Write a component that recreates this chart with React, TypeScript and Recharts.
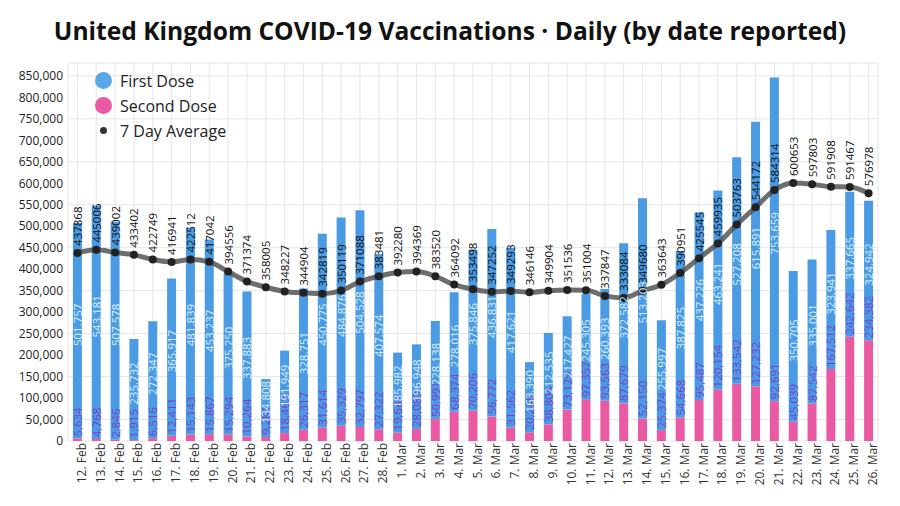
import React from "react";
import {
  ComposedChart,
  Bar,
  Line,
  XAxis,
  YAxis,
  CartesianGrid,
  LabelList,
} from "recharts";

const dates = [
  "12. Feb", "13. Feb", "14. Feb", "15. Feb", "16. Feb", "17. Feb", "18. Feb",
  "19. Feb", "20. Feb", "21. Feb", "22. Feb", "23. Feb", "24. Feb", "25. Feb",
  "26. Feb", "27. Feb", "28. Feb", "1. Mar", "2. Mar", "3. Mar", "4. Mar",
  "5. Mar", "6. Mar", "7. Mar", "8. Mar", "9. Mar", "10. Mar", "11. Mar",
  "12. Mar", "13. Mar", "14. Mar", "15. Mar", "16. Mar", "17. Mar", "18. Mar",
  "19. Mar", "20. Mar", "21. Mar", "22. Mar", "23. Mar", "24. Mar", "25. Mar",
  "26. Mar",
];

const firstDose = [
  501757, 543181, 507578, 235732, 272347, 365917, 481839, 453237, 375250,
  337883, 134808, 191949, 328751, 450775, 484876, 504528, 407574, 185982,
  196948, 228138, 278016, 375846, 436831, 417621, 163390, 212535, 217427,
  245305, 260393, 372582, 513203, 255997, 387825, 437226, 463241, 527208,
  615891, 753659, 350705, 335001, 323941, 337665, 324942,
];

const secondDose = [
  5634, 4768, 2846, 1915, 6516, 12411, 15143, 15867, 15294, 10264, 9281,
  18463, 26317, 31614, 35329, 32797, 27322, 19684, 28083, 50991, 68374,
  70206, 56772, 31562, 20246, 38804, 73129, 97357, 93563, 87679, 52150,
  25374, 54668, 95487, 120154, 133542, 127232, 92691, 45039, 87542, 167512,
  242642, 234382,
];

const sevenDayAvg = [
  437868, 445006, 439002, 433402, 422749, 416941, 422512, 417042, 394556,
  371374, 358005, 348227, 344904, 342819, 350119, 371088, 383481, 392280,
  394369, 383520, 364092, 353498, 347252, 349293, 346146, 349904, 351536,
  351004, 337847, 333084, 349680, 363643, 390951, 425545, 459935, 503763,
  544172, 584314, 600653, 597803, 591908, 591467, 576978,
];

const yTicks = [
  0, 50000, 100000, 150000, 200000, 250000, 300000, 350000, 400000, 450000,
  500000, 550000, 600000, 650000, 700000, 750000, 800000, 850000,
];

const data = dates.map((d, i) => ({
  date: d,
  first: firstDose[i],
  second: secondDose[i],
  avg: sevenDayAvg[i],
}));

const FONT = "'Open Sans', sans-serif";
const BLUE = "#4a9be3";
const PINK = "#ea5aa3";

const fmt = (v: number) => v.toLocaleString("en-US");

function FirstLabel(props: any) {
  const { x, y, width, height, value } = props;
  const cx = x + width / 2;
  const cy = y + height / 2 - 6;
  return (
    <text
      x={cx}
      y={cy}
      transform={`rotate(-90 ${cx} ${cy})`}
      textAnchor="middle"
      dominantBaseline="central"
      fontSize={11.5}
      fill="#dcefff"
      fontFamily={FONT}
    >
      {fmt(value)}
    </text>
  );
}

function SecondLabel(props: any) {
  const { x, y, width, value } = props;
  const cx = x + width / 2;
  const cy = y - 2;
  return (
    <text
      x={cx}
      y={cy}
      transform={`rotate(-90 ${cx} ${cy})`}
      textAnchor="start"
      dominantBaseline="central"
      fontSize={11.5}
      fill="#7d3fcf"
      fontFamily={FONT}
    >
      {fmt(value)}
    </text>
  );
}

function AvgLabel(props: any) {
  const { x, y, value } = props;
  const cy = y - 7;
  return (
    <text
      x={x}
      y={cy}
      transform={`rotate(-90 ${x} ${cy})`}
      textAnchor="start"
      dominantBaseline="central"
      fontSize={11.5}
      fill="#111"
      fontFamily={FONT}
    >
      {value}
    </text>
  );
}

function LegendBox() {
  const row = { display: "flex", alignItems: "center", height: 25 } as const;
  return (
    <div
      style={{
        position: "absolute",
        top: 68,
        left: 95,
        fontFamily: FONT,
        fontSize: 16,
        color: "#222",
      }}
    >
      <div style={row}>
        <span style={{ width: 17, height: 17, borderRadius: "50%", background: "#5aa7ea", marginRight: 8 }} />
        First Dose
      </div>
      <div style={row}>
        <span style={{ width: 17, height: 17, borderRadius: "50%", background: PINK, marginRight: 8 }} />
        Second Dose
      </div>
      <div style={row}>
        <span style={{ width: 17, display: "flex", justifyContent: "center", marginRight: 8 }}>
          <span style={{ width: 7, height: 7, borderRadius: "50%", background: "#333" }} />
        </span>
        7 Day Average
      </div>
    </div>
  );
}

export default function App() {
  return (
    <div
      style={{
        position: "absolute",
        left: 0,
        top: 0,
        width: 900,
        height: 506,
        background: "#fff",
        fontFamily: FONT,
      }}
    >
      <div
        style={{
          position: "absolute",
          top: 14,
          left: 0,
          width: 900,
          textAlign: "center",
          fontSize: 24.6,
          fontWeight: 700,
          color: "#111",
        }}
      >
        United Kingdom COVID-19 Vaccinations · Daily (by date reported)
      </div>
      <ComposedChart
        width={900}
        height={506}
        data={data}
        margin={{ top: 63, right: 22, bottom: 0, left: 8 }}
        barCategoryGap="26%"
      >
        <CartesianGrid stroke="#e6e6e6" />
        <XAxis
          dataKey="date"
          interval={0}
          angle={-90}
          textAnchor="end"
          tickLine={false}
          axisLine={false}
          tickSize={0}
          tickMargin={6}
          height={65}
          tick={{ fontSize: 12, fill: "#333", fontFamily: FONT, dy: -4 }}
        />
        <YAxis
          domain={[0, 880000]}
          ticks={yTicks}
          tickFormatter={(v: number) => fmt(v)}
          tickLine={false}
          axisLine={false}
          tickSize={0}
          tickMargin={5}
          width={60}
          tick={{ fontSize: 12, fill: "#222", fontFamily: FONT }}
        />
        <Bar dataKey="second" stackId="a" fill={PINK} isAnimationActive={false}>
          <LabelList dataKey="second" content={SecondLabel} />
        </Bar>
        <Bar dataKey="first" stackId="a" fill={BLUE} isAnimationActive={false}>
          <LabelList dataKey="first" content={FirstLabel} />
        </Bar>
        <Line
          dataKey="avg"
          type="monotone"
          stroke="#4a4a4a"
          strokeOpacity={0.8}
          strokeWidth={5}
          dot={{ r: 4, fill: "#222", stroke: "none" }}
          isAnimationActive={false}
        >
          <LabelList dataKey="avg" content={AvgLabel} />
        </Line>
      </ComposedChart>
      <LegendBox />
    </div>
  );
}
